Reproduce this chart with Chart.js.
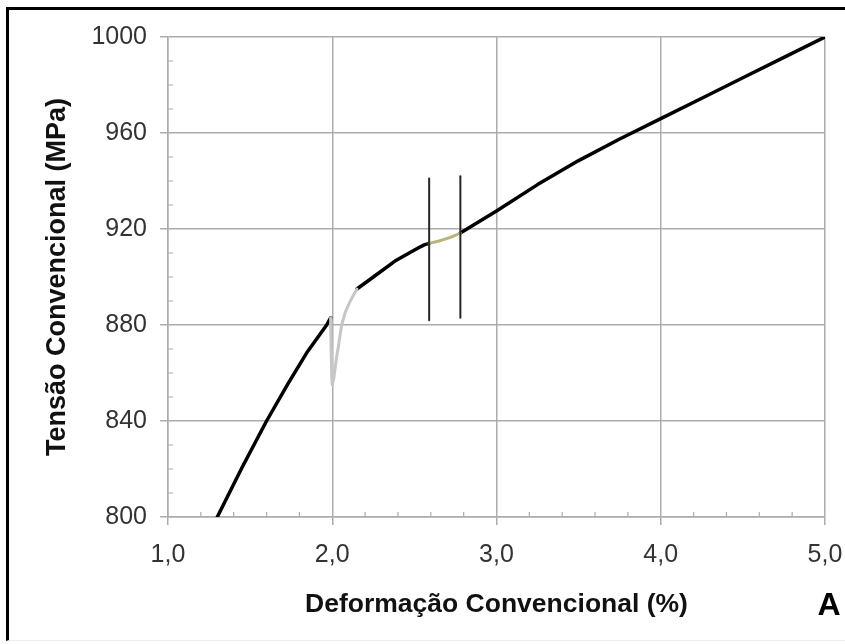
<!DOCTYPE html>
<html>
<head>
<meta charset="utf-8">
<script src="https://cdn.jsdelivr.net/npm/chart.js@4.4.0/dist/chart.umd.min.js"></script>
<style>
	html, body { margin: 0; padding: 0; background: #fff; }
	#wrap { position: relative; width: 845px; height: 644px; overflow: hidden; }
	#frame { position: absolute; left: 6px; top: 7px; right: -10px; bottom: 3px;
		border-left: 3px solid #000; border-top: 3px solid #000; border-bottom: 1px solid #eee;
		pointer-events: none; }
	canvas { position: absolute; left: 0; top: 0; }
</style>
</head>
<body>
<div id="wrap">
	<canvas id="stress-chartcanvas" width="845" height="644"></canvas>
	<div id="frame"></div>
</div>
<script>
"use strict";

// tick labels
var xTickLabels = ["1,0", "2,0", "3,0", "4,0", "5,0"];
var yTickLabels = ["800", "840", "880", "920", "960", "1000"];

// first loading branch (black)
var curve1Strain = [1.30, 1.45, 1.60, 1.73, 1.85, 1.966, 1.99];
var curve1Stress = [800, 820.5, 840, 855.5, 869, 880, 883];

// unloading / reloading dip (light gray)
var dipStrain = [1.99, 1.993, 1.997, 2.0, 2.01, 2.025, 2.035, 2.057, 2.08, 2.11, 2.15];
var dipStress = [883, 870, 858, 855, 858, 866, 870, 880, 885.5, 890, 895];

// second branch (black)
var curve2Strain = [2.15, 2.25, 2.39, 2.52, 2.56, 2.59];
var curve2Stress = [895, 900, 907, 912, 913.4, 914];

// region between the markers (olive)
var yieldStrain = [2.59, 2.65, 2.72, 2.78];
var yieldStress = [914, 915, 916.5, 918.3];

// last branch (black)
var curve3Strain = [2.78, 3.0, 3.25, 3.5, 3.75, 4.0, 4.25, 4.5, 4.75, 5.0];
var curve3Stress = [918.3, 927.5, 938.5, 948.5, 957.5, 966, 974.5, 983, 991.5, 1000];

// vertical marker lines
var markerStrain = [2.59, 2.78];
var markerLow = [882, 883];
var markerHigh = [941, 942];

var FONT = "'Liberation Sans', Arial, sans-serif";
var GRID = "#acacac";

function pairs(xs, ys) {
	var out = [];
	for (var i = 0; i < xs.length; i++) {
		out.push({ x: xs[i], y: ys[i] });
	}
	return out;
}

function lineSet(data, color, width) {
	return {
		data: data,
		borderColor: color,
		backgroundColor: color,
		borderWidth: width,
		showLine: true,
		fill: false,
		tension: 0,
		pointRadius: 0,
		borderCapStyle: "round",
		borderJoinStyle: "round"
	};
}

var datasets = [];
// markers first so they sit on top
for (var m = 0; m < markerStrain.length; m++) {
	datasets.push(lineSet(pairs([markerStrain[m], markerStrain[m]], [markerLow[m], markerHigh[m]]), "#262626", 2));
}
datasets.push(lineSet(pairs(yieldStrain, yieldStress), "#bab37c", 3));
datasets.push(lineSet(pairs(dipStrain, dipStress), "#c6c6c6", 3));
datasets.push(lineSet(pairs(curve1Strain, curve1Stress), "#000", 3.5));
datasets.push(lineSet(pairs(curve2Strain, curve2Stress), "#000", 3.5));
datasets.push(lineSet(pairs(curve3Strain, curve3Stress), "#000", 3.5));

// small inner ticks between the major ones + the panel letter
var extras = {
	id: "extras",
	afterDraw: function(chart) {
		var ctx = chart.ctx;
		var xs = chart.scales.x, ys = chart.scales.y;
		var area = chart.chartArea;
		ctx.save();
		ctx.strokeStyle = GRID;
		ctx.lineWidth = 1.2;
		ctx.beginPath();
		for (var v = 1; v < 50; v++) {
			if (v % 5 === 0) continue;
			var px = xs.getPixelForValue(1 + v * 0.2);
			if (px > area.right) break;
			ctx.moveTo(px, area.bottom);
			ctx.lineTo(px, area.bottom - 5);
		}
		for (var w = 1; w < 20; w++) {
			if (w % 4 === 0) continue;
			var py = ys.getPixelForValue(800 + w * 10);
			ctx.moveTo(area.left, py);
			ctx.lineTo(area.left + 5, py);
		}
		ctx.stroke();
		ctx.fillStyle = "#000";
		ctx.font = "bold 32px " + FONT;
		ctx.textAlign = "center";
		ctx.textBaseline = "middle";
		ctx.fillText("A", 829, 606);
		ctx.restore();
	}
};

var stressChart = new Chart(document.getElementById("stress-chartcanvas"), {
	type: "scatter",
	data: { datasets: datasets },
	options: {
		responsive: false,
		animation: false,
		devicePixelRatio: 1,
		layout: { padding: { left: 0, top: 37, right: 20, bottom: 0 } },
		plugins: {
			legend: { display: false },
			tooltip: { enabled: false }
		},
		scales: {
			x: {
				type: "linear",
				min: 1,
				max: 5,
				afterFit: function(scale) {
					scale.height = 127;
					// let the last label hang over the padding
					scale.paddingLeft = 0;
					scale.paddingRight = 0;
				},
				grid: { color: GRID, lineWidth: 1.5, tickLength: 8, tickColor: GRID },
				border: { color: GRID, width: 1.5 },
				ticks: {
					stepSize: 1,
					padding: 15,
					color: "#333",
					font: { family: FONT, size: 25 },
					callback: function(value, i) { return xTickLabels[i]; }
				},
				title: {
					display: true,
					text: "Deformação Convencional (%)",
					color: "#111",
					font: { family: FONT, size: 26.5, weight: "bold" },
					padding: { top: 0, bottom: 23 }
				}
			},
			y: {
				type: "linear",
				min: 800,
				max: 1000,
				afterFit: function(scale) { scale.width = 168; },
				grid: { color: GRID, lineWidth: 1.5, tickLength: 8, tickColor: GRID },
				border: { color: GRID, width: 1.5 },
				ticks: {
					stepSize: 40,
					padding: 13,
					color: "#333",
					font: { family: FONT, size: 25 },
					callback: function(value, i) { return yTickLabels[i]; }
				},
				title: {
					display: true,
					text: "Tensão Convencional (MPa)",
					color: "#111",
					font: { family: FONT, size: 27, weight: "bold" },
					padding: { top: 41, bottom: 0 }
				}
			}
		}
	},
	plugins: [extras]
});
</script>
</body>
</html>
